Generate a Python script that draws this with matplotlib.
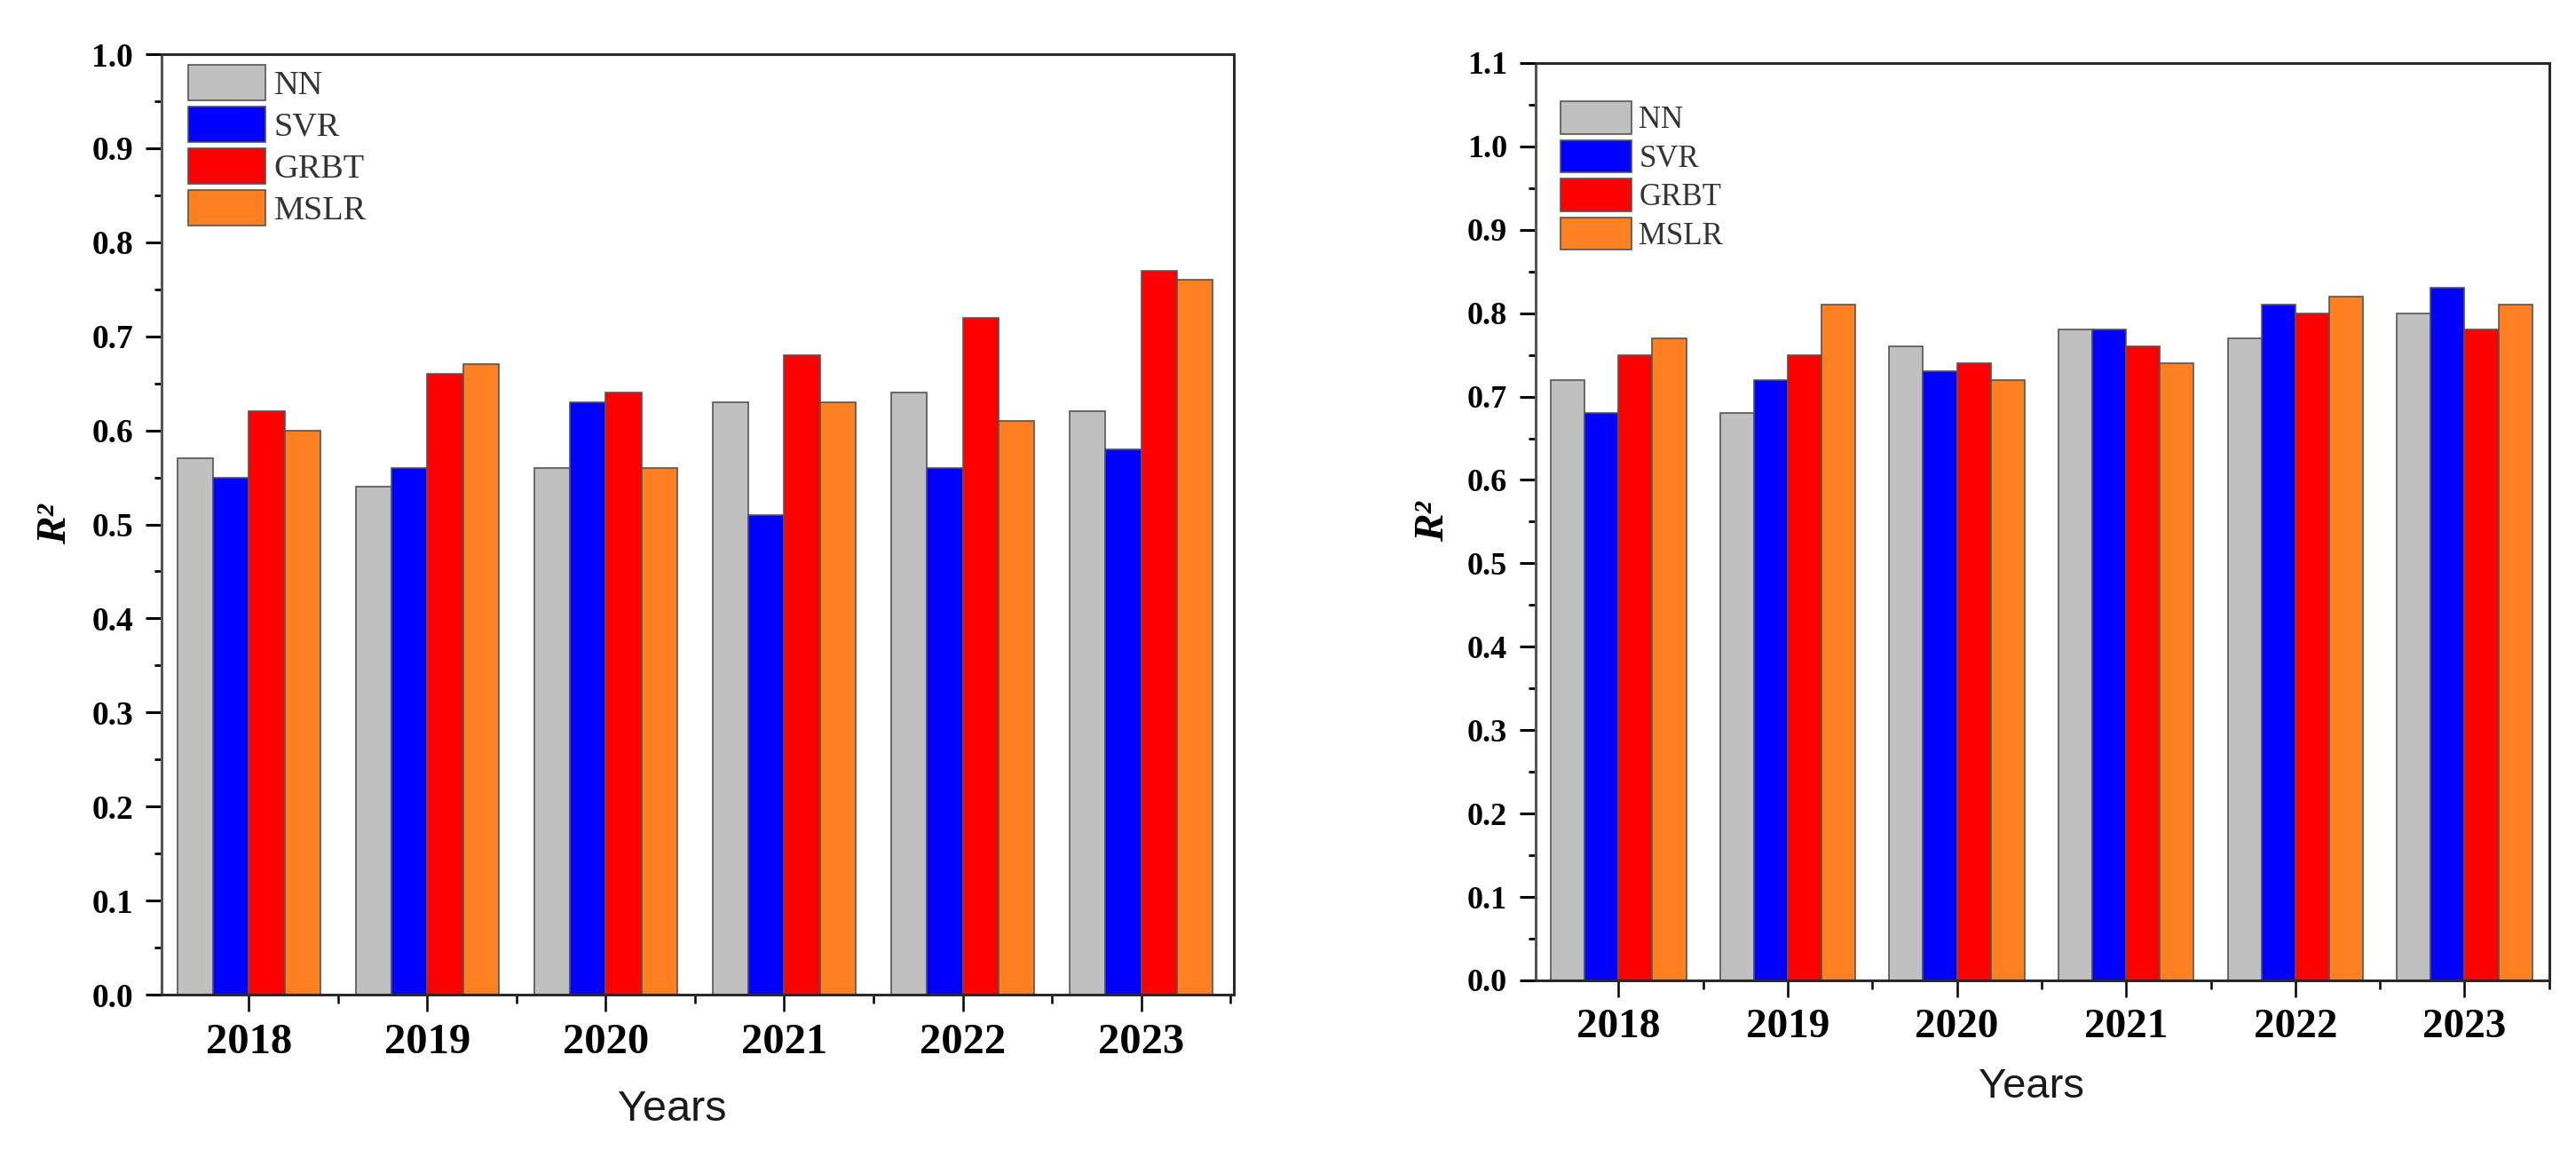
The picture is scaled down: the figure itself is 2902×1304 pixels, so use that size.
import matplotlib
matplotlib.use("Agg")
import matplotlib.pyplot as plt
import numpy as np
from matplotlib.ticker import MultipleLocator, FixedLocator, FormatStrFormatter

years = ["2018", "2019", "2020", "2021", "2022", "2023"]
models = ["NN", "SVR", "GRBT", "MSLR"]

left_nn = [0.57, 0.54, 0.56, 0.63, 0.64, 0.62]
left_svr = [0.55, 0.56, 0.63, 0.51, 0.56, 0.58]
left_grbt = [0.62, 0.66, 0.64, 0.68, 0.72, 0.77]
left_mslr = [0.60, 0.67, 0.56, 0.63, 0.61, 0.76]

right_nn = [0.72, 0.68, 0.76, 0.78, 0.77, 0.80]
right_svr = [0.68, 0.72, 0.73, 0.78, 0.81, 0.83]
right_grbt = [0.75, 0.75, 0.74, 0.76, 0.80, 0.78]
right_mslr = [0.77, 0.81, 0.72, 0.74, 0.82, 0.81]

colors = ["#C0C0C0", "#0000FF", "#FF0000", "#FF8020"]

SERIF = "Liberation Serif"
SANS = "Liberation Sans"

fig = plt.figure(figsize=(29.02, 13.04), dpi=100)


def draw(ax, series, ymax, xlim, legend_anchor, ylabel_x, xlabel_x, xlabel_y,
         ytick_size, xtick_size, legend_size, xlabel_size):
    x = np.arange(len(years))
    w = 0.2
    for i, (vals, c, name) in enumerate(zip(series, colors, models)):
        ax.bar(x + (i - 1.5) * w, vals, width=w, color=c, edgecolor="#555555",
               linewidth=1.2, label=name, zorder=2)
    ax.set_xlim(*xlim)
    ax.set_ylim(0, ymax)
    ax.yaxis.set_major_locator(MultipleLocator(0.1))
    ax.yaxis.set_minor_locator(MultipleLocator(0.05))
    ax.yaxis.set_major_formatter(FormatStrFormatter("%.1f"))
    ax.set_xticks(x)
    ax.set_xticklabels(years)
    ax.xaxis.set_minor_locator(FixedLocator(np.arange(-0.5, 6.0, 1.0)))
    ax.tick_params(axis="y", which="major", direction="out", length=13, width=2.2,
                   pad=10, labelsize=ytick_size)
    ax.tick_params(axis="y", which="minor", direction="out", length=5.5, width=2.0)
    ax.tick_params(axis="x", which="major", direction="out", length=14, width=1.8,
                   pad=9, labelsize=xtick_size)
    ax.tick_params(axis="x", which="minor", direction="out", length=7, width=1.8)
    for lab in ax.get_yticklabels() + ax.get_xticklabels():
        lab.set_fontfamily(SERIF)
        lab.set_fontweight("bold")
    for s in ax.spines.values():
        s.set_linewidth(2.2)
        s.set_color("#2a2a2a")
    ax.spines["left"].set_color("#555555")
    ax.set_ylabel("R²", fontfamily=SERIF, fontweight="bold", fontstyle="italic",
                  fontsize=34)
    ax.yaxis.set_label_coords(ylabel_x, 0.5)
    ax.set_xlabel("Years", fontfamily=SANS, fontsize=xlabel_size, color="#1a1a1a")
    ax.xaxis.set_label_coords(xlabel_x, xlabel_y)
    leg = ax.legend(loc="upper left", bbox_to_anchor=legend_anchor, frameon=False,
                    prop={"family": SERIF, "size": legend_size}, handlelength=2.28,
                    handleheight=1.24, labelspacing=0.16, handletextpad=0.25,
                    borderpad=0, borderaxespad=0)
    for t in leg.get_texts():
        t.set_color("#333333")


ax1 = fig.add_axes([0.0627, 0.1411, 0.4163, 0.8121])
draw(ax1, [left_nn, left_svr, left_grbt, left_mslr], 1.0, (-0.49, 5.52),
     (0.025, 0.9887), -0.081, 0.476, -0.101, 27, 35, 27.5, 35)

ax2 = fig.add_axes([0.5961, 0.1534, 0.3935, 0.7922])
draw(ax2, [right_nn, right_svr, right_grbt, right_mslr], 1.1, (-0.49, 5.5),
     (0.025, 0.958), -0.082, 0.489, -0.095, 26, 34, 25, 34)

fig.savefig("out.png", dpi=100)
